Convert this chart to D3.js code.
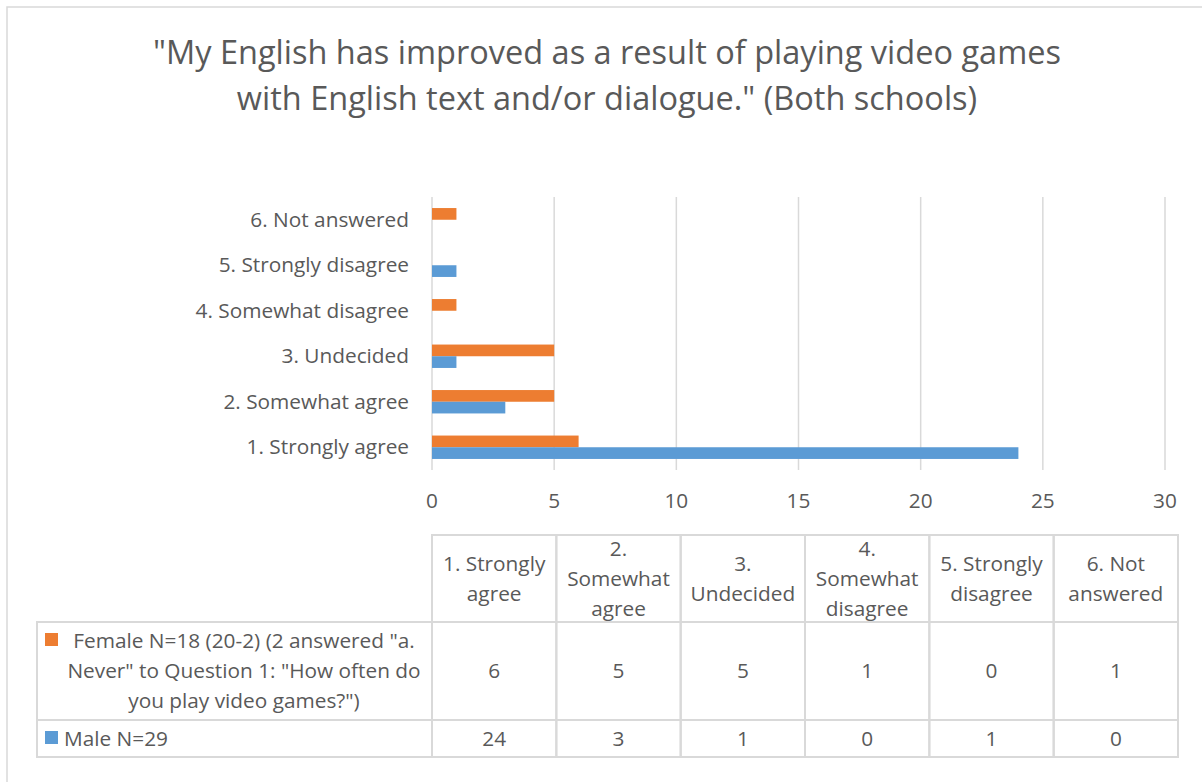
<!DOCTYPE html>
<html>
  <head>
    <script src="https://d3js.org/d3.v7.min.js"></script>
    <style>
      body { margin: 0; background: #fff; }
      svg text { font-family: "Open Sans", sans-serif; fill: #595959; }
    </style>
  </head>
  <body>
    <svg id="chart" width="1202" height="782"></svg>

    <script>
      // categories, bottom to top in the plot
      const categories = ["1. Strongly agree", "2. Somewhat agree", "3. Undecided",
                          "4. Somewhat disagree", "5. Strongly disagree", "6. Not answered"];
      const female = [6, 5, 5, 1, 0, 1];
      const male = [24, 3, 1, 0, 1, 0];
      const xTicks = [0, 5, 10, 15, 20, 25, 30];
      const headerLines = [["1. Strongly", "agree"], ["2.", "Somewhat", "agree"], ["3.", "Undecided"],
                           ["4.", "Somewhat", "disagree"], ["5. Strongly", "disagree"], ["6. Not", "answered"]];
      const femaleLabel = ["Female N=18 (20-2) (2 answered \"a.", "Never\" to Question 1: \"How often do", "you play video games?\")"];
      const maleLabel = "Male N=29";
      const series = [
        {name: "Female", values: female, color: "#ED7D31"},
        {name: "Male", values: male, color: "#5B9BD5"}
      ];

      const svg = d3.select("#chart");
      const grey = "#d9d9d9";
      const fs = "20.8px";

      // chart frame
      svg.append("rect")
        .attr("x", 7).attr("y", 7).attr("width", 1210).attr("height", 800)
        .attr("fill", "#fff").attr("stroke", grey).attr("stroke-width", 1.5);

      // title
      svg.append("text")
        .attr("x", 607).attr("y", 64)
        .attr("text-anchor", "middle")
        .style("font-size", "32.5px")
        .text("\"My English has improved as a result of playing video games");
      svg.append("text")
        .attr("x", 607).attr("y", 110)
        .attr("text-anchor", "middle")
        .style("font-size", "32.5px")
        .text("with English text and/or dialogue.\" (Both schools)");

      // scales
      const x = d3.scaleLinear().domain([0, 30]).range([432, 1165]);
      const y = d3.scaleBand().domain(categories.slice().reverse()).range([197, 470]);
      const inner = d3.scaleBand().domain(series.map(s => s.name))
        .range([0, 23.4]);
      const barOffset = (y.bandwidth() - 23.4) / 2;

      // vertical gridlines
      svg.append("g")
        .selectAll("line")
        .data(xTicks)
        .join("line")
          .attr("x1", d => x(d)).attr("x2", d => x(d))
          .attr("y1", 197).attr("y2", 470)
          .attr("stroke", grey).attr("stroke-width", 1.5);

      // x tick labels
      svg.append("g")
        .selectAll("text")
        .data(xTicks)
        .join("text")
          .attr("x", d => x(d)).attr("y", 508)
          .attr("text-anchor", "middle")
          .style("font-size", fs)
          .text(d => d);

      // category labels
      svg.append("g")
        .selectAll("text")
        .data(categories)
        .join("text")
          .attr("x", 409)
          .attr("y", d => y(d) + y.bandwidth() / 2 + 7)
          .attr("text-anchor", "end")
          .style("font-size", fs)
          .text(d => d);

      // bars
      series.forEach(s => {
        svg.append("g")
          .selectAll("rect")
          .data(categories.map((c, i) => ({c, v: s.values[i]})))
          .join("rect")
            .attr("x", x(0))
            .attr("y", d => y(d.c) + barOffset + inner(s.name))
            .attr("width", d => x(d.v) - x(0))
            .attr("height", inner.bandwidth())
            .attr("fill", s.color);
      });

      // data table
      const colX = d3.scaleBand().domain(categories).range([432, 1178]);
      const rows = [535, 622, 720, 757];
      const table = svg.append("g");

      // header cells
      table.append("g").selectAll("rect")
        .data(categories)
        .join("rect")
          .attr("x", d => colX(d)).attr("y", rows[0])
          .attr("width", colX.bandwidth()).attr("height", rows[1] - rows[0])
          .attr("fill", "none").attr("stroke", grey).attr("stroke-width", 2);

      // body cells (legend column + values)
      [0, 1].forEach(r => {
        table.append("rect")
          .attr("x", 37).attr("y", rows[r + 1])
          .attr("width", 432 - 37).attr("height", rows[r + 2] - rows[r + 1])
          .attr("fill", "none").attr("stroke", grey).attr("stroke-width", 2);
        table.append("g").selectAll("rect")
          .data(categories)
          .join("rect")
            .attr("x", d => colX(d)).attr("y", rows[r + 1])
            .attr("width", colX.bandwidth()).attr("height", rows[r + 2] - rows[r + 1])
            .attr("fill", "none").attr("stroke", grey).attr("stroke-width", 2);
      });

      // header text
      categories.forEach((c, i) => {
        const lines = headerLines[i];
        const mid = (rows[0] + rows[1]) / 2;
        const start = mid - (lines.length - 1) * 30 / 2;
        lines.forEach((t, j) => {
          table.append("text")
            .attr("x", colX(c) + colX.bandwidth() / 2)
            .attr("y", start + j * 30 + 7)
            .attr("text-anchor", "middle")
            .style("font-size", fs)
            .text(t);
        });
      });

      // values
      series.forEach((s, r) => {
        table.append("g").selectAll("text")
          .data(categories.map((c, i) => ({c, v: s.values[i]})))
          .join("text")
            .attr("x", d => colX(d.c) + colX.bandwidth() / 2)
            .attr("y", (rows[r + 1] + rows[r + 2]) / 2 + 7)
            .attr("text-anchor", "middle")
            .style("font-size", fs)
            .text(d => d.v);
      });

      // legend keys and labels
      table.append("rect").attr("x", 45).attr("y", 633).attr("width", 13).attr("height", 13).attr("fill", series[0].color);
      table.append("rect").attr("x", 45).attr("y", 731).attr("width", 13).attr("height", 13).attr("fill", series[1].color);
      femaleLabel.forEach((t, j) => {
        table.append("text")
          .attr("x", 244)
          .attr("y", 648 + j * 30)
          .attr("text-anchor", "middle")
          .style("font-size", fs)
          .text(t);
      });
      table.append("text")
        .attr("x", 64).attr("y", 746)
        .style("font-size", fs)
        .text(maleLabel);
    </script>
  </body>
</html>
